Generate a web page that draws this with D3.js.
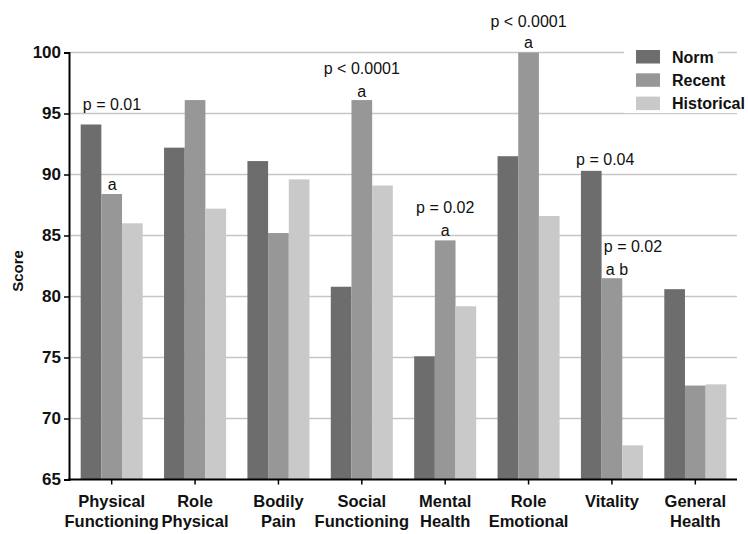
<!DOCTYPE html>
<html>
<head>
<meta charset="utf-8">
<script src="https://cdn.jsdelivr.net/npm/d3@7"></script>
<style>
  html, body { margin: 0; padding: 0; background: #fff; }
  svg { display: block; font-family: "Liberation Sans", Arial, Helvetica, sans-serif; }
</style>
</head>
<body>
<svg id="chart" width="748" height="534"></svg>
<script>
// SF-36 domain scores by group
const categories = [
  "Physical Functioning", "Role Physical", "Bodily Pain", "Social Functioning",
  "Mental Health", "Role Emotional", "Vitality", "General Health"
];
const categoryLines = [
  ["Physical", "Functioning"], ["Role", "Physical"], ["Bodily", "Pain"], ["Social", "Functioning"],
  ["Mental", "Health"], ["Role", "Emotional"], ["Vitality"], ["General", "Health"]
];
const seriesNames = ["Norm", "Recent", "Historical"];
const normValues       = [94.1, 92.2, 91.1, 80.8, 75.1, 91.5, 90.3, 80.6];
const recentValues     = [88.4, 96.1, 85.2, 96.1, 84.6, 100.0, 81.5, 72.7];
const historicalValues = [86.0, 87.2, 89.6, 89.1, 79.2, 86.6, 67.8, 72.8];
const yTicks = [65, 70, 75, 80, 85, 90, 95, 100];

// significance notes, each tied to the bar it sits over
const annotations = [
  { category: "Physical Functioning", series: "Norm",   text: "p = 0.01" },
  { category: "Physical Functioning", series: "Recent", text: "a" },
  { category: "Social Functioning",   series: "Recent", text: "p < 0.0001" },
  { category: "Social Functioning",   series: "Recent", text: "a" },
  { category: "Mental Health",        series: "Recent", text: "p = 0.02" },
  { category: "Mental Health",        series: "Recent", text: "a" },
  { category: "Role Emotional",       series: "Recent", text: "p < 0.0001" },
  { category: "Role Emotional",       series: "Recent", text: "a" },
  { category: "Vitality",             series: "Norm",   text: "p = 0.04" },
  { category: "Vitality",             series: "Recent", text: "p = 0.02" },
  { category: "Vitality",             series: "Recent", text: "a b" }
];

const seriesValues = { Norm: normValues, Recent: recentValues, Historical: historicalValues };
const colors = { Norm: "#6d6d6d", Recent: "#979797", Historical: "#c9c9c9" };

const svg = d3.select("#chart");
const plotLeft = 70, plotRight = 737, plotTop = 52.5, plotBottom = 479.5;

const x = d3.scaleBand().domain(categories).range([plotLeft, plotRight])
  .paddingInner(0.256).paddingOuter(0.128);
const xs = d3.scaleBand().domain(seriesNames).range([0, x.bandwidth()]).padding(0);
const y = d3.scaleLinear().domain([65, 100]).range([plotBottom, plotTop]);

// horizontal gridlines
svg.append("g").selectAll("line").data(yTicks.filter(t => t > 65)).join("line")
  .attr("x1", plotLeft).attr("x2", plotRight)
  .attr("y1", d => y(d)).attr("y2", d => y(d))
  .attr("stroke", "#c6c6c6").attr("stroke-width", 1.4);

// bars
const groups = svg.append("g").selectAll("g").data(categories).join("g")
  .attr("transform", d => `translate(${x(d)},0)`);
groups.selectAll("rect")
  .data((c, i) => seriesNames.map(s => ({ series: s, value: seriesValues[s][i] })))
  .join("rect")
  .attr("x", d => xs(d.series))
  .attr("width", xs.bandwidth())
  .attr("y", d => y(d.value))
  .attr("height", d => plotBottom - y(d.value))
  .attr("fill", d => colors[d.series]);

// y axis
const yAxis = svg.append("g").attr("transform", `translate(${plotLeft - 1},0)`)
  .call(d3.axisLeft(y).tickValues(yTicks).tickSize(5).tickPadding(3).tickFormat(d3.format("d")));
yAxis.select(".domain").attr("stroke", "#000").attr("stroke-width", 2);
yAxis.selectAll(".tick line").attr("stroke", "#000").attr("stroke-width", 1.5);
yAxis.selectAll(".tick text")
  .attr("font-size", 17).attr("font-weight", "bold").attr("fill", "#111")
  .attr("font-family", "'Liberation Sans', Arial, sans-serif");

// x axis
const xAxis = svg.append("g").attr("transform", `translate(0,${plotBottom})`)
  .call(d3.axisBottom(x).tickSize(5).tickSizeOuter(0).tickFormat(""));
xAxis.select(".domain").attr("stroke", "#000").attr("stroke-width", 2)
  .attr("d", `M${plotLeft - 2},0H${plotRight}`);
xAxis.selectAll(".tick line").attr("stroke", "#000").attr("stroke-width", 1.5);

// category labels (two lines)
const catLabels = svg.append("g").selectAll("text").data(categories).join("text")
  .attr("text-anchor", "middle")
  .attr("font-size", 16.5).attr("font-weight", "bold").attr("fill", "#111")
  .attr("x", d => x(d) + x.bandwidth() / 2)
  .attr("y", 507);
catLabels.each(function (d, i) {
  const lines = categoryLines[i];
  d3.select(this).selectAll("tspan").data(lines).join("tspan")
    .attr("x", x(d) + x.bandwidth() / 2)
    .attr("dy", (l, j) => j === 0 ? 0 : 19.5)
    .text(l => l);
});

// y axis title
svg.append("text")
  .attr("transform", "translate(23,271) rotate(-90)")
  .attr("text-anchor", "middle")
  .attr("font-size", 15).attr("font-weight", "bold").attr("fill", "#111")
  .text("Score");

// annotation placement: offsets from the bar's centre and top
const annotationOffsets = [
  [21, -14.5], [0.5, -4], [0, -26], [0, -3.5], [0, -27], [0, -4],
  [0, -26], [0, -4.3], [14, -6], [21, -26], [5, -3.5]
];
svg.append("g").selectAll("text").data(annotations).join("text")
  .attr("text-anchor", "middle")
  .attr("font-size", 16).attr("fill", "#111")
  .attr("x", (d, i) => x(d.category) + xs(d.series) + xs.bandwidth() / 2 + annotationOffsets[i][0])
  .attr("y", (d, i) => y(seriesValues[d.series][categories.indexOf(d.category)]) + annotationOffsets[i][1])
  .text(d => d.text);

// legend
const legend = svg.append("g");
seriesNames.forEach((s, i) => {
  const top = 50 + i * 23.3;
  const item = legend.append("g");
  const bg = item.append("rect").attr("fill", "#fff");
  item.append("rect")
    .attr("x", 636).attr("y", top).attr("width", 24).attr("height", 13.5)
    .attr("fill", colors[s]);
  const t = item.append("text")
    .attr("x", 672).attr("y", top + 12.5)
    .attr("font-size", 16).attr("font-weight", "bold").attr("fill", "#111")
    .text(s);
  const w = t.node().getComputedTextLength();
  bg.attr("x", 624).attr("y", top - 3).attr("width", 672 + w + 4 - 624).attr("height", 19.5);
});
</script>
</body>
</html>
